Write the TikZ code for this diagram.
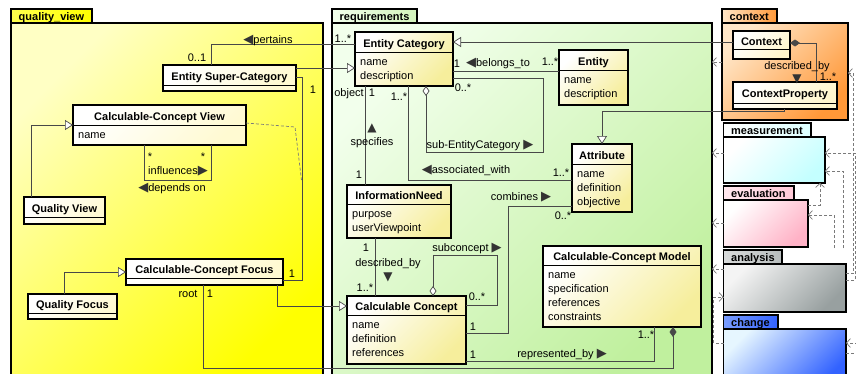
\documentclass[tikz,border=0pt]{standalone}
\usepackage{fontspec}
\setmainfont{Liberation Sans}
\newfontfamily\symf{DejaVu Sans}
\usetikzlibrary{arrows.meta}
\definecolor{qvA}{HTML}{FFFFC4}
\definecolor{qvB}{HTML}{FFFF00}
\definecolor{reqA}{HTML}{F2FFEC}
\definecolor{reqB}{HTML}{C0F09E}
\definecolor{ctxA}{HTML}{FFE6C8}
\definecolor{ctxB}{HTML}{FF9838}
\definecolor{meaB}{HTML}{C4FFFF}
\definecolor{evaB}{HTML}{FFB2C6}
\definecolor{anaA}{HTML}{F4F4F4}
\definecolor{anaB}{HTML}{98A0A0}
\definecolor{chgA}{HTML}{E6F6FF}
\definecolor{chgB}{HTML}{3262FF}
\definecolor{qclsB}{HTML}{FFFAD2}
\definecolor{rclsB}{HTML}{F6EE9C}
\definecolor{cclsB}{HTML}{FFF6CC}
\definecolor{lnk}{HTML}{484848}
\definecolor{dlnk}{HTML}{7A7A7A}
\newcommand\trL{{\symf\fontsize{13}{13}\selectfont\color{black!80}◀}}
\newcommand\trR{{\symf\fontsize{13}{13}\selectfont\color{black!80}▶}}
\newcommand\trU{{\symf\fontsize{12}{12}\selectfont\color{black!80}▲}}
\newcommand\trD{{\symf\fontsize{12}{12}\selectfont\color{black!80}▼}}
% #1 name #2 x1 #3 y1 #4 x2 #5 y2 #6 header bottom #7 title #8 attributes #9 fill style
\newcommand\umlclass[9]{%
  \node[classbox,#9,minimum width={(#4)-(#2)},minimum height={(#5)-(#3)}] (#1) at ({((#2)+(#4))/2},{((#3)+(#5))/2}) {};
  \draw[classline] (#1.west |- 0,#6) -- (#1.east |- 0,#6);
  \node[clstitle] (#1-t) at ({((#2)+(#4))/2},{((#3)+(#6))/2+5}) {#7};
  \foreach \clsat [count=\i] in {#8} {\node[clsattr] (#1-a\i) at ({(#2)+5},{(#6)+13.5+14*(\i-1)}) {\clsat};}
}
% #1 name #2 x1 #3 y1 #4 x2 #5 y2 #6 tab x2 #7 title #8 tab style #9 body style
\newcommand\umlpkg[9]{%
  \path[tabbox,#8] (#2,{(#3)-14}) rectangle (#6,#3);
  \node[pkgbody,#9,minimum width={(#4)-(#2)},minimum height={(#5)-(#3)}] (#1) at ({((#2)+(#4))/2},{((#3)+(#5))/2}) {};
  \node[pkgtitle] (#1-t) at ({(#2)+7.5},{(#3)-3}) {#7};
}
\begin{document}
\begin{tikzpicture}[x=1pt,y=-1pt,
  tabbox/.style={draw=black,line width=1.4pt},
  pkgbody/.style={draw=black,line width=1.4pt,inner sep=0pt,outer sep=0pt},
  pkgtitle/.style={anchor=base west,inner sep=0pt,font=\fontsize{11}{13}\selectfont\bfseries},
  classbox/.style={draw=black,line width=1.2pt,inner sep=0pt,outer sep=0pt},
  classline/.style={draw=black,line width=0.8pt},
  clstitle/.style={anchor=base,inner sep=0pt,font=\fontsize{11}{13}\selectfont\bfseries},
  clsattr/.style={anchor=base west,inner sep=0pt,font=\fontsize{11}{13}\selectfont},
  qcls/.style={top color=white,bottom color=qclsB,shading angle=45},
  rcls/.style={top color=white,bottom color=rclsB,shading angle=45},
  ccls/.style={top color=white,bottom color=cclsB,shading angle=45},
  conn/.style={draw=lnk,line width=0.7pt},
  gen/.style={conn,-{Triangle[open,length=8pt,width=10pt,fill=white]}},
  odia/.style={conn,{Diamond[open,length=10pt,width=7pt,fill=white]}-},
  fdia/.style={conn,{Diamond[length=10pt,width=7pt,fill=lnk]}-},
  dep/.style={draw=dlnk,line width=0.7pt,dash pattern=on 3pt off 2pt,-{Straight Barb[length=4pt,width=9pt]}},
  depl/.style={draw=dlnk,line width=0.7pt,dash pattern=on 3pt off 2pt},
  lbl/.style={anchor=base,inner sep=0pt,font=\fontsize{11}{13}\selectfont}]
\useasboundingbox (0,0) rectangle (856,373);
\clip (0,0) rectangle (856,373);
\fill[white] (0,0) rectangle (856,373);
% packages
\umlpkg{qvp}{11}{23}{323}{385}{92}{quality\_view}{left color=qvA!40!qvB,right color=qvB}{top color=qvA,bottom color=qvB,shading angle=45}
\umlpkg{reqp}{332}{23}{712}{385}{417}{requirements}{left color=reqA,right color=reqB!70!white}{top color=reqA,bottom color=reqB,shading angle=45}
\umlpkg{ctxp}{722}{23}{848}{120}{777}{context}{left color=ctxA,right color=ctxB}{top color=ctxA,bottom color=ctxB,shading angle=45}
\umlpkg{meap}{723.5}{137}{825}{183}{811}{measurement}{left color=white,right color=meaB!60!white}{top color=white,bottom color=meaB,shading angle=45}
\umlpkg{evap}{723.5}{200}{808}{247}{794}{evaluation}{left color=evaB!30!white,right color=evaB!70!white}{top color=white,bottom color=evaB,shading angle=45}
\umlpkg{anap}{723.5}{264}{846}{312}{782}{analysis}{left color=anaA!70!anaB,right color=anaB!70!white}{top color=anaA,bottom color=anaB,shading angle=45}
\umlpkg{chgp}{723.5}{329}{846}{385}{778}{change}{left color=chgA!40!chgB,right color=chgB}{top color=chgA,bottom color=chgB,shading angle=45}
% package dependencies
\draw[dep] (ctxp.west |- 0,62) -- (reqp.east |- 0,62);
\draw[dep] (meap.west |- 0,153) -- (reqp.east |- 0,153);
\draw[dep] (evap.west |- 0,223) -- (reqp.east |- 0,223);
\draw[dep] (anap.west |- 0,269) -- (reqp.east |- 0,269);
\draw[dep] (chgp.west |- 0,343) -- ++(-10,0) |- (anap.west |- 0,297);
\draw[dep] (anap.east |- 0,273) -- (853.5,273) |- (ctxp.east |- 0,73);
\draw[dep] (anap.east |- 0,280) -- (855,280) |- (meap.east |- 0,153);
\draw[depl] (chgp.east |- 0,353) -- (856,353);
\coordinate (offr) at (858,343);
\draw[dep] (offr) -- (chgp.east |- 0,343);
\coordinate (endm) at (843,248);
\coordinate (ende) at (834,248);
\draw[dep] (endm) |- (meap.east |- 0,171);
\draw[dep] (ende) |- (evap.east |- 0,215);
\draw[dep] (evap.east |- 0,205) -| (meap.south -| 820,0);
% classes
\umlclass{esc}{163}{65}{296}{91}{85}{Entity Super-Category}{}{qcls}
\umlclass{ccv}{73}{105}{246}{145}{125}{Calculable-Concept View}{name}{qcls}
\umlclass{qvw}{24}{197}{105}{224}{217}{Quality View}{}{qcls}
\umlclass{ccf}{126}{259}{283}{285}{278}{Calculable-Concept Focus}{}{qcls}
\umlclass{qf}{28}{294}{117}{319}{313}{Quality Focus}{}{qcls}
\umlclass{ec}{355}{32}{453}{86}{52}{Entity Category}{name,description}{rcls}
\umlclass{ent}{559}{50}{628}{105}{70}{Entity}{name,description}{rcls}
\umlclass{att}{572}{144}{632}{212}{164}{Attribute}{name,definition,objective}{rcls}
\umlclass{inf}{347}{185}{451}{238}{204}{InformationNeed}{purpose,userViewpoint}{rcls}
\umlclass{cc}{347}{296}{466}{364}{315}{Calculable Concept}{name,definition,references}{rcls}
\umlclass{ccm}{543}{246}{701}{327}{265}{Calculable-Concept Model}{name,specification,references,constraints}{rcls}
\umlclass{ctx}{733}{31}{790}{59}{49}{Context}{}{ccls}
\umlclass{cp}{733}{82}{837}{109}{103}{ContextProperty}{}{ccls}
% connectors: quality_view
\draw[conn] (esc.north -| 211,0) |- (ec.west |- 0,44);
\draw[gen] (esc.east |- 0,68) -- (ec.west |- 0,68);
\draw[conn] (esc.east |- 0,77) -- ++(6,0) |- (ccf.east |- 0,280);
\coordinate (asc) at (301.5,180);
\draw[depl] (ccv.east |- 0,123) -- (295,127) -- (asc);
\draw[conn] (ccv.south -| 144,0) |- (211,180) -- (ccv.south -| 211,0);
\draw[gen] (qvw.north -| 31,0) |- (ccv.west |- 0,125);
\draw[gen] (qf.north -| 64,0) |- (ccf.west |- 0,272);
\draw[gen] (ccf.south -| 277,0) |- (cc.west |- 0,306);
\draw[fdia] (ccm.south -| 673,0) -- (673,368) -| (ccf.south -| 203,0);
% connectors: requirements
\draw[gen] (ctx.west |- 0,42) -- (ec.east |- 0,42);
\draw[conn] (ec.east |- 0,71) -- (ent.west |- 0,71);
\draw[odia] (ec.south -| 426,0) |- (543,152) |- (ec.east |- 0,78);
\draw[conn] (ec.south -| 408,0) |- (att.west |- 0,180);
\draw[conn] (ec.south -| 365,0) -- (inf.north -| 365,0);
\draw[gen] (cp.south -| 784,0) -- (784,111) -| (att.north -| 602,0);
\draw[fdia] (ctx.east |- 0,43) -| (cp.north -| 816,0);
\draw[conn] (inf.south -| 375,0) -- (cc.north -| 375,0);
\draw[odia] (cc.north -| 433,0) |- (497,255) |- (cc.east |- 0,305);
\draw[conn] (cc.east |- 0,333) -- (508,333) |- (att.west |- 0,206);
\draw[conn] (cc.east |- 0,361) -| (ccm.south -| 654,0);
% labels
\node[lbl] (l01) at (197,61) {0..1};
\node[lbl] (l02) at (268,43) {\trL pertains};
\node[lbl] (l03) at (343,42) {1..*};
\node[lbl] (l04) at (313,93) {1};
\node[lbl] (l05) at (292,277) {1};
\node[lbl] (l06) at (150,160) {*};
\node[lbl] (l07) at (203,160) {*};
\node[lbl] (l08) at (178,174) {influences\trR};
\node[lbl] (l09) at (172,191) {\trL depends on};
\node[lbl] (l10) at (188,297) {root};
\node[lbl] (l11) at (210,297) {1};
\node[lbl] (l12) at (457,67) {1};
\node[lbl] (l13) at (498,66) {\trL belongs\_to};
\node[lbl] (l14) at (550,65) {1..*};
\node[lbl] (l15) at (463,91) {0..*};
\node[lbl] (l16) at (349,96) {object};
\node[lbl] (l17) at (372,96) {1};
\node[lbl] (l18) at (399,100) {1..*};
\node[lbl] (l19) at (372,131) {\trU};
\node[lbl] (l20) at (372,145) {specifies};
\node[lbl] (l21) at (480,148) {sub-EntityCategory \trR};
\node[lbl] (l22) at (466,173) {\trL associated\_with};
\node[lbl] (l23) at (561,176) {1..*};
\node[lbl] (l24) at (359,178) {1};
\node[lbl] (l25) at (797,69) {described\_by};
\node[lbl] (l26) at (797,82) {\trD};
\node[lbl] (l27) at (828,80) {1..*};
\node[lbl] (l28) at (366,251) {1};
\node[lbl] (l29) at (388,266) {described\_by};
\node[lbl] (l30) at (388,280) {\trD};
\node[lbl] (l31) at (365,291) {1..*};
\node[lbl] (l32) at (467,251) {subconcept \trR};
\node[lbl] (l33) at (477,300) {0..*};
\node[lbl] (l34) at (473,330) {1};
\node[lbl] (l35) at (521,200) {combines \trR};
\node[lbl] (l36) at (563,219) {0..*};
\node[lbl] (l37) at (473,358) {1};
\node[lbl] (l38) at (562,357) {represented\_by \trR};
\node[lbl] (l39) at (646,338) {1..*};
\end{tikzpicture}
\end{document}
